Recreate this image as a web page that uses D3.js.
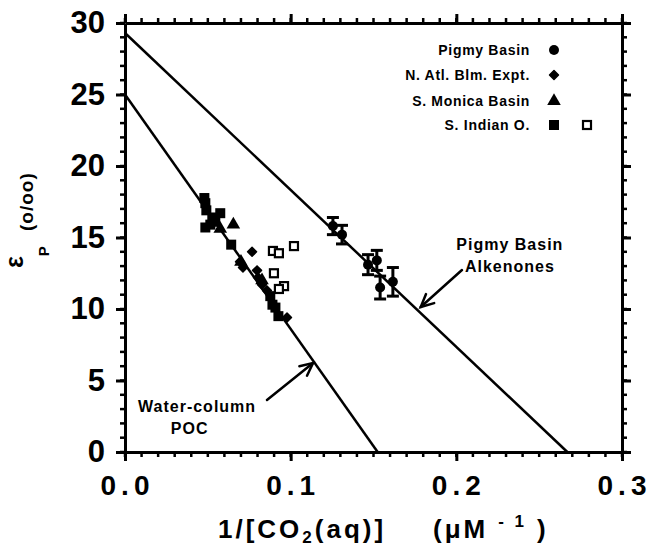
<!DOCTYPE html>
<html>
<head>
<meta charset="utf-8">
<script src="https://cdn.jsdelivr.net/npm/d3@7"></script>
<style>
  body { margin: 0; background: #fff; }
  svg text { font-family: "Liberation Sans", Arial, Helvetica, sans-serif; font-weight: bold; fill: #000; }
</style>
</head>
<body>
<div id="chart"></div>
<script>
// ---- data ----
// Pigmy Basin alkenones (filled circles, with error bars)
var pigmyX   = [0.1255, 0.131, 0.1467, 0.152, 0.154, 0.1617];
var pigmyY   = [15.8, 15.2, 13.1, 13.4, 11.5, 11.9];
var pigmyErr = [0.6, 0.65, 0.7, 0.7, 0.8, 1.0];

// N. Atl. Blm. Expt. (filled diamonds)
var natlX = [0.0694, 0.0712, 0.0767, 0.0797, 0.0803, 0.0827, 0.0857, 0.0978];
var natlY = [13.3, 12.9, 14.0, 12.7, 12.2, 11.7, 11.3, 9.4];

// S. Monica Basin (filled triangles)
var smonX = [0.0575, 0.0654, 0.0700, 0.0827];
var smonY = [15.6, 15.9, 13.3, 12.0];

// S. Indian O. (filled squares)
var sindX = [0.0479, 0.0485, 0.0491, 0.0485, 0.0515, 0.0545, 0.0575, 0.0527, 0.0641, 0.0877, 0.0890, 0.0908, 0.0926];
var sindY = [17.76, 17.4, 16.9, 15.7, 15.9, 16.1, 16.7, 16.4, 14.5, 10.9, 10.3, 10.1, 9.5];

// S. Indian O. (open squares)
var sindOpenX = [0.0893, 0.0929, 0.1020, 0.0899, 0.0960, 0.0929];
var sindOpenY = [14.06, 13.9, 14.4, 12.5, 11.6, 11.4];

// regression lines: [intercept at x=0, x where eps = 0]
var alkLine = [29.3, 0.267];
var pocLine = [25.0, 0.1525];

var xTicks = [0.0, 0.1, 0.2, 0.3];
var yTicks = [0, 5, 10, 15, 20, 25, 30];

var legendNames = ["Pigmy Basin", "N. Atl. Blm. Expt.", "S. Monica Basin", "S. Indian O."];

// annotations: text + arrow (data units)
var pocText   = [["Water-column", 0.0435, 3.2], ["POC", 0.039, 1.68]];
var pocArrow  = [[0.0857, 3.64], [0.1135, 6.22]];
var alkText   = [["Pigmy Basin", 0.2323, 14.55], ["Alkenones", 0.2323, 13.0]];
var alkArrow  = [[0.2034, 12.73], [0.1785, 10.14]];

// ---- drawing ----
var W = 650, H = 546;
var svg = d3.select("#chart").append("svg")
    .attr("width", W).attr("height", H);

var x = d3.scaleLinear().domain([0, 0.3]).range([125, 622]);
var y = d3.scaleLinear().domain([0, 30]).range([452, 23]);

var minorX = d3.range(0, 31).map(function(i){ return i / 100; });
var minorY = d3.range(0, 31);

function styleAxis(g){
    g.select(".domain").attr("stroke", "#000").attr("stroke-width", 3);
    g.selectAll(".tick line").attr("stroke", "#000").attr("stroke-width", 3);
}

// axes: labels + frame lines
var xAxis = svg.append("g").attr("transform", "translate(0," + y(0) + ")")
    .call(d3.axisBottom(x).tickValues(xTicks).tickSize(9).tickSizeOuter(0).tickPadding(14).tickFormat(d3.format(".1f")))
    .call(styleAxis);
xAxis.selectAll("text").style("font-size", "28px").style("letter-spacing", "5px")
    .attr("dx", "2px");
svg.append("g").attr("transform", "translate(0," + y(30) + ")")
    .call(d3.axisTop(x).tickValues(xTicks).tickSize(9).tickSizeOuter(0).tickFormat(""))
    .call(styleAxis);
var yAxis = svg.append("g").attr("transform", "translate(" + x(0) + ",0)")
    .call(d3.axisLeft(y).tickValues(yTicks).tickSize(9).tickSizeOuter(0).tickPadding(11).tickFormat(d3.format("d")))
    .call(styleAxis);
yAxis.selectAll("text").style("font-size", "31px");
svg.append("g").attr("transform", "translate(" + x(0.3) + ",0)")
    .call(d3.axisRight(y).tickValues(yTicks).tickSize(9).tickSizeOuter(0).tickFormat(""))
    .call(styleAxis);

// minor ticks, pointing outward on all four sides
var ticks = svg.append("g").attr("stroke", "#000").attr("stroke-width", 2.5);
minorX.forEach(function(v){
    ticks.append("line").attr("x1", x(v)).attr("x2", x(v)).attr("y1", y(0)).attr("y2", y(0) + 5);
    ticks.append("line").attr("x1", x(v)).attr("x2", x(v)).attr("y1", y(30)).attr("y2", y(30) - 5);
});
minorY.forEach(function(v){
    ticks.append("line").attr("y1", y(v)).attr("y2", y(v)).attr("x1", x(0)).attr("x2", x(0) - 5);
    ticks.append("line").attr("y1", y(v)).attr("y2", y(v)).attr("x1", x(0.3)).attr("x2", x(0.3) + 5);
});

// regression lines
[alkLine, pocLine].forEach(function(l){
    svg.append("line")
        .attr("x1", x(0)).attr("y1", y(l[0]))
        .attr("x2", x(l[1])).attr("y2", y(0))
        .attr("stroke", "#000").attr("stroke-width", 2.5);
});

// S. Indian open squares
svg.selectAll("rect.sind-open").data(d3.range(sindOpenX.length)).enter().append("rect")
    .attr("class", "sind-open")
    .attr("x", function(i){ return x(sindOpenX[i]) - 4; })
    .attr("y", function(i){ return y(sindOpenY[i]) - 4; })
    .attr("width", 8).attr("height", 8)
    .attr("fill", "#fff").attr("stroke", "#000").attr("stroke-width", 2.2);

// S. Indian filled squares
svg.selectAll("rect.sind").data(d3.range(sindX.length)).enter().append("rect")
    .attr("class", "sind")
    .attr("x", function(i){ return x(sindX[i]) - 5; })
    .attr("y", function(i){ return y(sindY[i]) - 5; })
    .attr("width", 10).attr("height", 10)
    .attr("fill", "#000");

// S. Monica triangles
var tri = d3.symbol().type(d3.symbolTriangle).size(80);
svg.selectAll("path.smon").data(d3.range(smonX.length)).enter().append("path")
    .attr("class", "smon")
    .attr("d", tri)
    .attr("transform", function(i){ return "translate(" + x(smonX[i]) + "," + y(smonY[i]) + ")"; })
    .attr("fill", "#000");

// N. Atl. diamonds
var dia = d3.symbol().type(d3.symbolSquare).size(40);
svg.selectAll("path.natl").data(d3.range(natlX.length)).enter().append("path")
    .attr("class", "natl")
    .attr("d", dia)
    .attr("transform", function(i){ return "translate(" + x(natlX[i]) + "," + y(natlY[i]) + ") rotate(45)"; })
    .attr("fill", "#000").attr("stroke", "#000").attr("stroke-width", 1.5).attr("stroke-linejoin", "round");

// Pigmy Basin circles with error bars
var pig = svg.selectAll("g.pigmy").data(d3.range(pigmyX.length)).enter().append("g")
    .attr("class", "pigmy");
pig.append("line")
    .attr("x1", function(i){ return x(pigmyX[i]); })
    .attr("x2", function(i){ return x(pigmyX[i]); })
    .attr("y1", function(i){ return y(pigmyY[i] + pigmyErr[i]); })
    .attr("y2", function(i){ return y(pigmyY[i] - pigmyErr[i]); })
    .attr("stroke", "#000").attr("stroke-width", 3);
[1, -1].forEach(function(s){
    pig.append("line")
        .attr("x1", function(i){ return x(pigmyX[i]) - 6; })
        .attr("x2", function(i){ return x(pigmyX[i]) + 6; })
        .attr("y1", function(i){ return y(pigmyY[i] + s * pigmyErr[i]); })
        .attr("y2", function(i){ return y(pigmyY[i] + s * pigmyErr[i]); })
        .attr("stroke", "#000").attr("stroke-width", 3);
});
pig.append("circle")
    .attr("cx", function(i){ return x(pigmyX[i]); })
    .attr("cy", function(i){ return y(pigmyY[i]); })
    .attr("r", 5).attr("fill", "#000");

// legend
var legend = svg.append("g").attr("class", "legend");
var legY = [50, 75, 101, 125];
legendNames.forEach(function(name, i){
    legend.append("text")
        .attr("x", 530).attr("y", legY[i])
        .attr("dy", "0.35em")
        .attr("text-anchor", "end")
        .style("font-size", "14px").style("letter-spacing", "0.7px")
        .text(name);
});
legend.append("circle").attr("cx", 554).attr("cy", legY[0]).attr("r", 5).attr("fill", "#000");
legend.append("path").attr("d", dia)
    .attr("transform", "translate(554," + legY[1] + ") rotate(45)")
    .attr("fill", "#000").attr("stroke", "#000").attr("stroke-width", 1.5).attr("stroke-linejoin", "round");
legend.append("path").attr("d", tri)
    .attr("transform", "translate(554," + legY[2] + ")").attr("fill", "#000");
legend.append("rect").attr("x", 549).attr("y", legY[3] - 5).attr("width", 10).attr("height", 10).attr("fill", "#000");
legend.append("rect").attr("x", 583).attr("y", legY[3] - 4).attr("width", 8).attr("height", 8)
    .attr("fill", "#fff").attr("stroke", "#000").attr("stroke-width", 2.2);

// annotations
function arrow(a){
    var x1 = x(a[0][0]), y1 = y(a[0][1]), x2 = x(a[1][0]), y2 = y(a[1][1]);
    var ang = Math.atan2(y2 - y1, x2 - x1), L = 14, spread = 0.45;
    var g = svg.append("g").attr("stroke", "#000").attr("stroke-width", 2.5)
        .attr("fill", "none").attr("stroke-linecap", "round");
    g.append("line").attr("x1", x1).attr("y1", y1).attr("x2", x2).attr("y2", y2);
    g.append("path").attr("d", d3.line()([
        [x2 - L * Math.cos(ang - spread), y2 - L * Math.sin(ang - spread)],
        [x2, y2],
        [x2 - L * Math.cos(ang + spread), y2 - L * Math.sin(ang + spread)]
    ]));
}
arrow(pocArrow);
arrow(alkArrow);

pocText.concat(alkText).forEach(function(t){
    svg.append("text")
        .attr("x", x(t[1])).attr("y", y(t[2]))
        .attr("dy", "0.35em")
        .attr("text-anchor", "middle")
        .style("font-size", "16px").style("letter-spacing", "1px")
        .text(t[0]);
});

// axis titles
var xt = svg.append("text")
    .attr("x", 218).attr("y", 538)
    .attr("text-anchor", "start")
    .style("font-size", "26px").style("letter-spacing", "3px");
xt.append("tspan").text("1/[CO");
xt.append("tspan").attr("dy", 5).style("font-size", "17px").text("2");
xt.append("tspan").attr("dy", -5).text("(aq)]");
xt.append("tspan").attr("x", 433).text("(\u03bcM");
xt.append("tspan").attr("dx", 10).attr("dy", -11).style("font-size", "17px").text("- 1");
xt.append("tspan").attr("dx", 10).attr("dy", 11).text(")");

var yt = svg.append("g").attr("transform", "translate(23,0) rotate(-90)");
var yt1 = yt.append("text").attr("x", -268).attr("y", 0).style("font-size", "25px");
yt1.append("tspan").text("\u03b5");
yt1.append("tspan").attr("dy", 26).style("font-size", "15px").text("P");
yt.append("text").attr("x", -231).attr("y", 10).style("font-size", "19px").style("letter-spacing", "1px").text("(o/oo)");
</script>
</body>
</html>
